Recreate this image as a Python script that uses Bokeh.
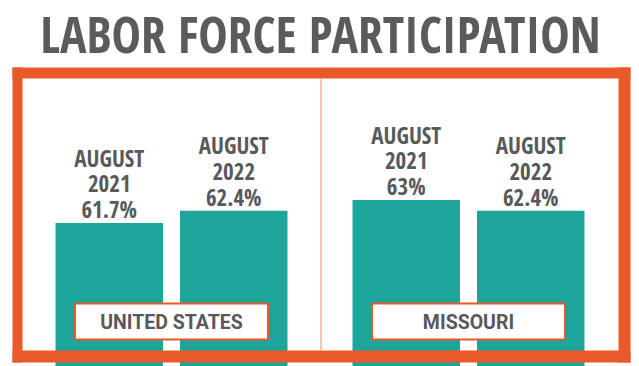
from bokeh.plotting import figure
from bokeh.models import FactorRange, Range1d, ColumnDataSource
from bokeh.core.properties import value
from bokeh.embed import file_html
from bokeh.resources import INLINE

# ---- data ----
regions = ["UNITED STATES", "MISSOURI"]
periods = ["AUGUST\n2021", "AUGUST\n2022"]
us_values = [61.7, 62.4]
mo_values = [63.0, 62.4]
value_labels_us = ["61.7%", "62.4%"]
value_labels_mo = ["63%", "62.4%"]
title_text = "LABOR FORCE PARTICIPATION"

W, H = 639, 366
TEAL = "#1BA59B"
ORANGE = "#E9592A"
GRAY = "#58595B"
FONT = "Open Sans Condensed"
FONT2 = "Roboto"

factors = [(r, per) for r in regions for per in periods]
vals = us_values + mo_values
labels = value_labels_us + value_labels_mo
texts = [per + "\n" + lab for (r, per), lab in zip(factors, labels)]

GP, RP = 0.3855, 0.3735
x_range = FactorRange(*factors, group_padding=GP, range_padding=RP,
                      range_padding_units="absolute")
x_start = -RP
x_end = len(factors) + (len(regions) - 1) * GP + RP


def sx(px):
    """pixel position -> synthetic coordinate of the categorical x range"""
    return x_start + px * (x_end - x_start) / W


y_range = Range1d(53.6, 74.27)

p = figure(width=W, height=H, x_range=x_range, y_range=y_range,
           output_backend="svg", toolbar_location=None,
           x_axis_location=None, y_axis_location=None, min_border=0)
p.extra_y_ranges = {"px": Range1d(H, 0)}
p.grid.visible = False
p.outline_line_color = None
p.background_fill_color = "white"
p.border_fill_color = "white"

src = ColumnDataSource(dict(x=factors, top=vals, text=texts))

# bars
p.vbar(x="x", top="top", bottom=y_range.start, width=0.863, source=src,
       fill_color=TEAL, line_color=None)

# labels above bars
p.text(x="x", y="top", text="text", source=src, text_align="center",
       text_baseline="bottom", y_offset=2, text_color=GRAY,
       text_font=value(FONT), text_font_style="bold", text_font_size="23px",
       text_line_height=0.80)

# orange frame (decoration, in pixel space)
frame_l = [12, 12, 618, 12]
frame_r = [630, 22, 630, 630]
frame_t = [67, 67, 67, 350]
frame_b = [78, 362, 362, 362]
p.quad(left=[sx(v) for v in frame_l], right=[sx(v) for v in frame_r],
       top=frame_t, bottom=frame_b, y_range_name="px",
       fill_color=ORANGE, line_color=None)

# divider
p.segment(x0=[sx(320.5)], y0=[78], x1=[sx(320.5)], y1=[350],
          y_range_name="px", line_color="#EFB596", line_width=1.5)

# region label boxes
p.rect(x=regions, y=[321, 321], width=193, height=36, width_units="screen",
       height_units="screen", y_range_name="px", fill_color="white",
       line_color=ORANGE, line_width=2)
p.text(x=regions, y=[321.5, 321.5], text=regions, y_range_name="px",
       text_align="center", text_baseline="alphabetic", text_color=GRAY,
       text_font=value(FONT2), text_font_style="bold", text_font_size="19.5px")

# title
p.text(x=[sx(320)], y=[33.5], text=[title_text], y_range_name="px",
       text_align="center", text_baseline="alphabetic", text_color="#5A5B5D",
       text_font=value(FONT), text_font_style="bold", text_font_size="49.5px")

open("out.html", "w").write(file_html(p, INLINE))
